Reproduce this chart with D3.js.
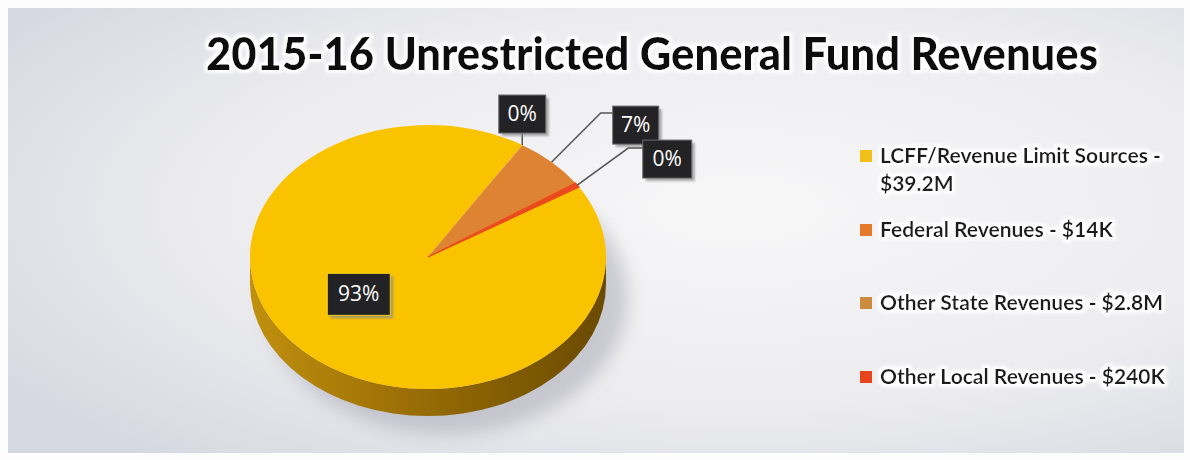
<!DOCTYPE html>
<html>
<head>
<meta charset="utf-8">
<script src="https://cdn.jsdelivr.net/npm/d3@7"></script>
<style>
  html, body { margin: 0; padding: 0; background: #ffffff; }
  svg { display: block; }
</style>
</head>
<body>
<svg id="chart" width="1190" height="460"></svg>
<script>
// ---- data ----
const title = "2015-16 Unrestricted General Fund Revenues";
const categories = ["LCFF/Revenue Limit Sources", "Federal Revenues", "Other State Revenues", "Other Local Revenues"];
const amounts = [39.2, 0.014, 2.8, 0.24];          // $ millions
const amountLabels = ["$39.2M", "$14K", "$2.8M", "$240K"];
const percentLabels = ["93%", "0%", "7%", "0%"];
const colors = ["#FAC300", "#E8792A", "#DE8331", "#EA4A1C"];
const legendColors = ["#F2C01A", "#E57A2C", "#CB8A3E", "#E8441E"];

(function () {
// ---- layout ----
const W = 1190, H = 460;
const svg = d3.select("#chart");
const defs = svg.append("defs");

// background gradient
const bg = defs.append("radialGradient").attr("id", "bg")
  .attr("cx", "62%").attr("cy", "45%").attr("r", "75%");
bg.append("stop").attr("offset", "0%").attr("stop-color", "#F7F7F8");
bg.append("stop").attr("offset", "60%").attr("stop-color", "#ECECEF");
bg.append("stop").attr("offset", "100%").attr("stop-color", "#D6D8E1");
svg.append("rect").attr("x", 0).attr("y", 0).attr("width", W).attr("height", H).attr("fill", "#fdfdfd");
svg.append("rect").attr("x", 8).attr("y", 8).attr("width", W - 14).attr("height", H - 15).attr("fill", "url(#bg)");

// filters
const glow = defs.append("filter").attr("id", "glow").attr("x", "-5%").attr("y", "-30%").attr("width", "110%").attr("height", "160%");
glow.append("feMorphology").attr("in", "SourceAlpha").attr("operator", "dilate").attr("radius", 2.5).attr("result", "d");
glow.append("feGaussianBlur").attr("in", "d").attr("stdDeviation", 1.5).attr("result", "b");
glow.append("feFlood").attr("flood-color", "#ffffff");
glow.append("feComposite").attr("in2", "b").attr("operator", "in").attr("result", "w");
const gm = glow.append("feMerge");
gm.append("feMergeNode").attr("in", "w");
gm.append("feMergeNode").attr("in", "SourceGraphic");

const blur = defs.append("filter").attr("id", "shadowBlur").attr("x", "-20%").attr("y", "-20%").attr("width", "140%").attr("height", "140%");
blur.append("feGaussianBlur").attr("stdDeviation", 9);

const boxBlur = defs.append("filter").attr("id", "boxBlur").attr("x", "-30%").attr("y", "-30%").attr("width", "160%").attr("height", "160%");
boxBlur.append("feGaussianBlur").attr("stdDeviation", 1.2);

// title
svg.append("text")
  .attr("x", 652).attr("y", 70)
  .attr("text-anchor", "middle")
  .attr("font-family", "Lato, 'Open Sans', sans-serif")
  .attr("font-weight", 900)
  .attr("font-size", 46)
  .attr("fill", "#111")
  .attr("textLength", 892)
  .attr("lengthAdjust", "spacingAndGlyphs")
  .attr("filter", "url(#glow)")
  .text(title);

// ---- 3D pie ----
const cx = 428, cy = 257, rx = 178, ry = 132, depth = 27;
const startDeg = 58;
const pie = d3.pie().sort(null).value(d => d)
  .startAngle(startDeg * Math.PI / 180)
  .endAngle((startDeg + 360) * Math.PI / 180);
const arcs = pie(amounts);

// shadow
svg.append("ellipse")
  .attr("cx", cx + 18).attr("cy", cy + depth + 14)
  .attr("rx", rx + 4).attr("ry", ry + 4)
  .attr("fill", "#9a9aa8").attr("opacity", 0.45)
  .attr("filter", "url(#shadowBlur)");

// side (front half)
const sideGrad = defs.append("linearGradient").attr("id", "side").attr("x1", "0").attr("x2", "1").attr("y1", "0").attr("y2", "0");
sideGrad.append("stop").attr("offset", "0%").attr("stop-color", "#C0900E");
sideGrad.append("stop").attr("offset", "45%").attr("stop-color", "#9A6E06");
sideGrad.append("stop").attr("offset", "100%").attr("stop-color", "#6A4A02");
svg.append("path")
  .attr("d", `M${cx - rx},${cy} A${rx},${ry} 0 0 0 ${cx + rx},${cy} L${cx + rx},${cy + depth} A${rx},${ry} 0 0 1 ${cx - rx},${cy + depth} Z`)
  .attr("fill", "url(#side)");

// top face
const arcGen = d3.arc().innerRadius(0).outerRadius(rx);
const topFace = svg.append("g").attr("transform", `translate(${cx},${cy}) scale(1,${ry / rx})`);
topFace.selectAll("path.slice").data(arcs).join("path")
  .attr("class", "slice")
  .attr("d", arcGen)
  .attr("fill", (d, i) => colors[i])
  .attr("stroke", (d, i) => i === 3 ? colors[3] : "none")
  .attr("stroke-width", 1.5);

// rim point helper
function rim(a, k = 1) {
  return [cx + rx * k * Math.sin(a), cy - ry * k * Math.cos(a)];
}

// ---- data labels ----
const labelLayout = [
  { k: 0.55, dx: 0, dy: 0, leader: "none" },
  { k: 1, dx: 0, dy: -31, leader: "vertical" },
  { k: 1, dx: 84, dy: -37, leader: "elbow", ex: 49, ey: -49 },
  { k: 1, dx: 90, dy: -26, leader: "elbow", ex: 51, ey: -37 }
];
const boxW = [63, 47, 46, 49], boxH = [42, 38, 38, 38];

const labels = svg.append("g");
arcs.forEach((d, i) => {
  const L = labelLayout[i];
  let anchorAngle = (d.startAngle + d.endAngle) / 2;
  if (i === 1) anchorAngle = d.startAngle;
  const [ax, ay] = rim(anchorAngle, L.k);
  let bx, by;
  if (i === 0) { bx = ax; by = ay - 14; }
  else { bx = ax + L.dx; by = ay + L.dy; }
  const w = boxW[i], h = boxH[i];
  if (L.leader === "vertical") {
    labels.append("line").attr("x1", ax).attr("y1", ay).attr("x2", ax).attr("y2", by + h / 2 - 2)
      .attr("stroke", "#555").attr("stroke-width", 1.5);
  } else if (L.leader === "elbow") {
    const exx = ax + L.ex, eyy = ay + L.ey;
    labels.append("polyline")
      .attr("points", `${ax},${ay} ${exx},${eyy} ${bx - w / 2 + 2},${eyy}`)
      .attr("fill", "none").attr("stroke", "#555").attr("stroke-width", 1.5);
  }
  labels.append("rect").attr("x", bx - w / 2 + 3).attr("y", by - h / 2 + 3).attr("width", w).attr("height", h)
    .attr("fill", "#8a8a8a").attr("opacity", 0.7).attr("filter", "url(#boxBlur)");
  labels.append("rect").attr("x", bx - w / 2).attr("y", by - h / 2).attr("width", w).attr("height", h)
    .attr("fill", "#232325").attr("stroke", i === 0 ? "#f0d020" : "#6a6a6a").attr("stroke-width", 1);
  labels.append("text").attr("x", bx).attr("y", by + 7)
    .attr("text-anchor", "middle")
    .attr("font-family", "'Open Sans', Lato, sans-serif")
    .attr("font-size", 21)
    .attr("fill", "#ffffff")
    .text(percentLabels[i]);
});

// ---- legend ----
const legendRows = [
  { i: 0, lines: [categories[0] + " -", amountLabels[0]], y: 156 },
  { i: 1, lines: [categories[1] + " - " + amountLabels[1]], y: 230 },
  { i: 2, lines: [categories[2] + " - " + amountLabels[2]], y: 303 },
  { i: 3, lines: [categories[3] + " - " + amountLabels[3]], y: 377 }
];
const legend = svg.append("g");
legendRows.forEach(r => {
  legend.append("rect").attr("x", 860).attr("y", r.y - 6).attr("width", 12).attr("height", 12)
    .attr("fill", legendColors[r.i]);
  r.lines.forEach((t, j) => {
    legend.append("text")
      .attr("x", 880).attr("y", r.y + 7 + j * 28)
      .attr("font-family", "Lato, 'Open Sans', sans-serif")
      .attr("font-weight", 700)
      .attr("font-size", 21)
      .attr("fill", "#1a1a1a")
      .attr("filter", "url(#glow)")
      .text(t);
  });
});
})();
</script>
</body>
</html>
